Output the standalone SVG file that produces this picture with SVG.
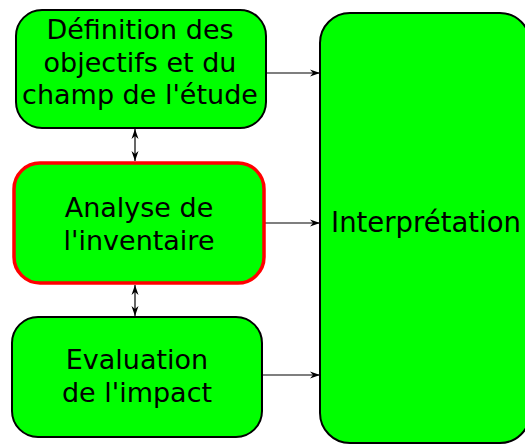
<svg xmlns="http://www.w3.org/2000/svg" width="525" height="444" viewBox="0 0 525 444">
<defs>
<marker id="ah" viewBox="0 0 10 10" refX="10" refY="5" markerWidth="10" markerHeight="10" markerUnits="userSpaceOnUse" orient="auto-start-reverse">
<path d="M0,1.5 L10,5 L0,8.5 L3,5 Z" fill="#000"/>
</marker>
</defs>
<style>
.box{fill:#00ff00;stroke:#000;stroke-width:2}
.hl{stroke:#ff0000;stroke-width:3.5}
.t{font-family:"DejaVu Sans",sans-serif;font-size:27px;fill:#000;text-anchor:middle}
.c{stroke:#000;stroke-width:1.2;fill:none}
</style>
<rect width="525" height="444" fill="#fff"/>
<g id="connectors">
<line class="c" x1="266" y1="73" x2="320" y2="73" marker-end="url(#ah)"/>
<line class="c" x1="264" y1="223" x2="320" y2="223" marker-end="url(#ah)"/>
<line class="c" x1="262" y1="375" x2="320" y2="375" marker-end="url(#ah)"/>
<line class="c" x1="135" y1="129" x2="135" y2="161" marker-start="url(#ah)" marker-end="url(#ah)"/>
<line class="c" x1="135" y1="285" x2="135" y2="316" marker-start="url(#ah)" marker-end="url(#ah)"/>
</g>
<g id="n1">
<rect class="box" x="16" y="10" width="250" height="118" rx="26"/>
<text class="t" x="140" y="39">Définition des</text>
<text class="t" x="140" y="72">objectifs et du</text>
<text class="t" x="140" y="104">champ de l'étude</text>
</g>
<g id="n2">
<rect class="box hl" x="14" y="163" width="250" height="120" rx="26"/>
<text class="t" x="139" y="217">Analyse de</text>
<text class="t" x="139" y="250">l'inventaire</text>
</g>
<g id="n3">
<rect class="box" x="12" y="317" width="250" height="120" rx="26"/>
<text class="t" x="137" y="369">Evaluation</text>
<text class="t" x="137" y="402">de l'impact</text>
</g>
<g id="n4">
<rect class="box" x="320" y="13" width="210" height="430" rx="30"/>
<text class="t" x="426" y="232" style="font-size:27.5px">Interprétation</text>
</g>
</svg>
